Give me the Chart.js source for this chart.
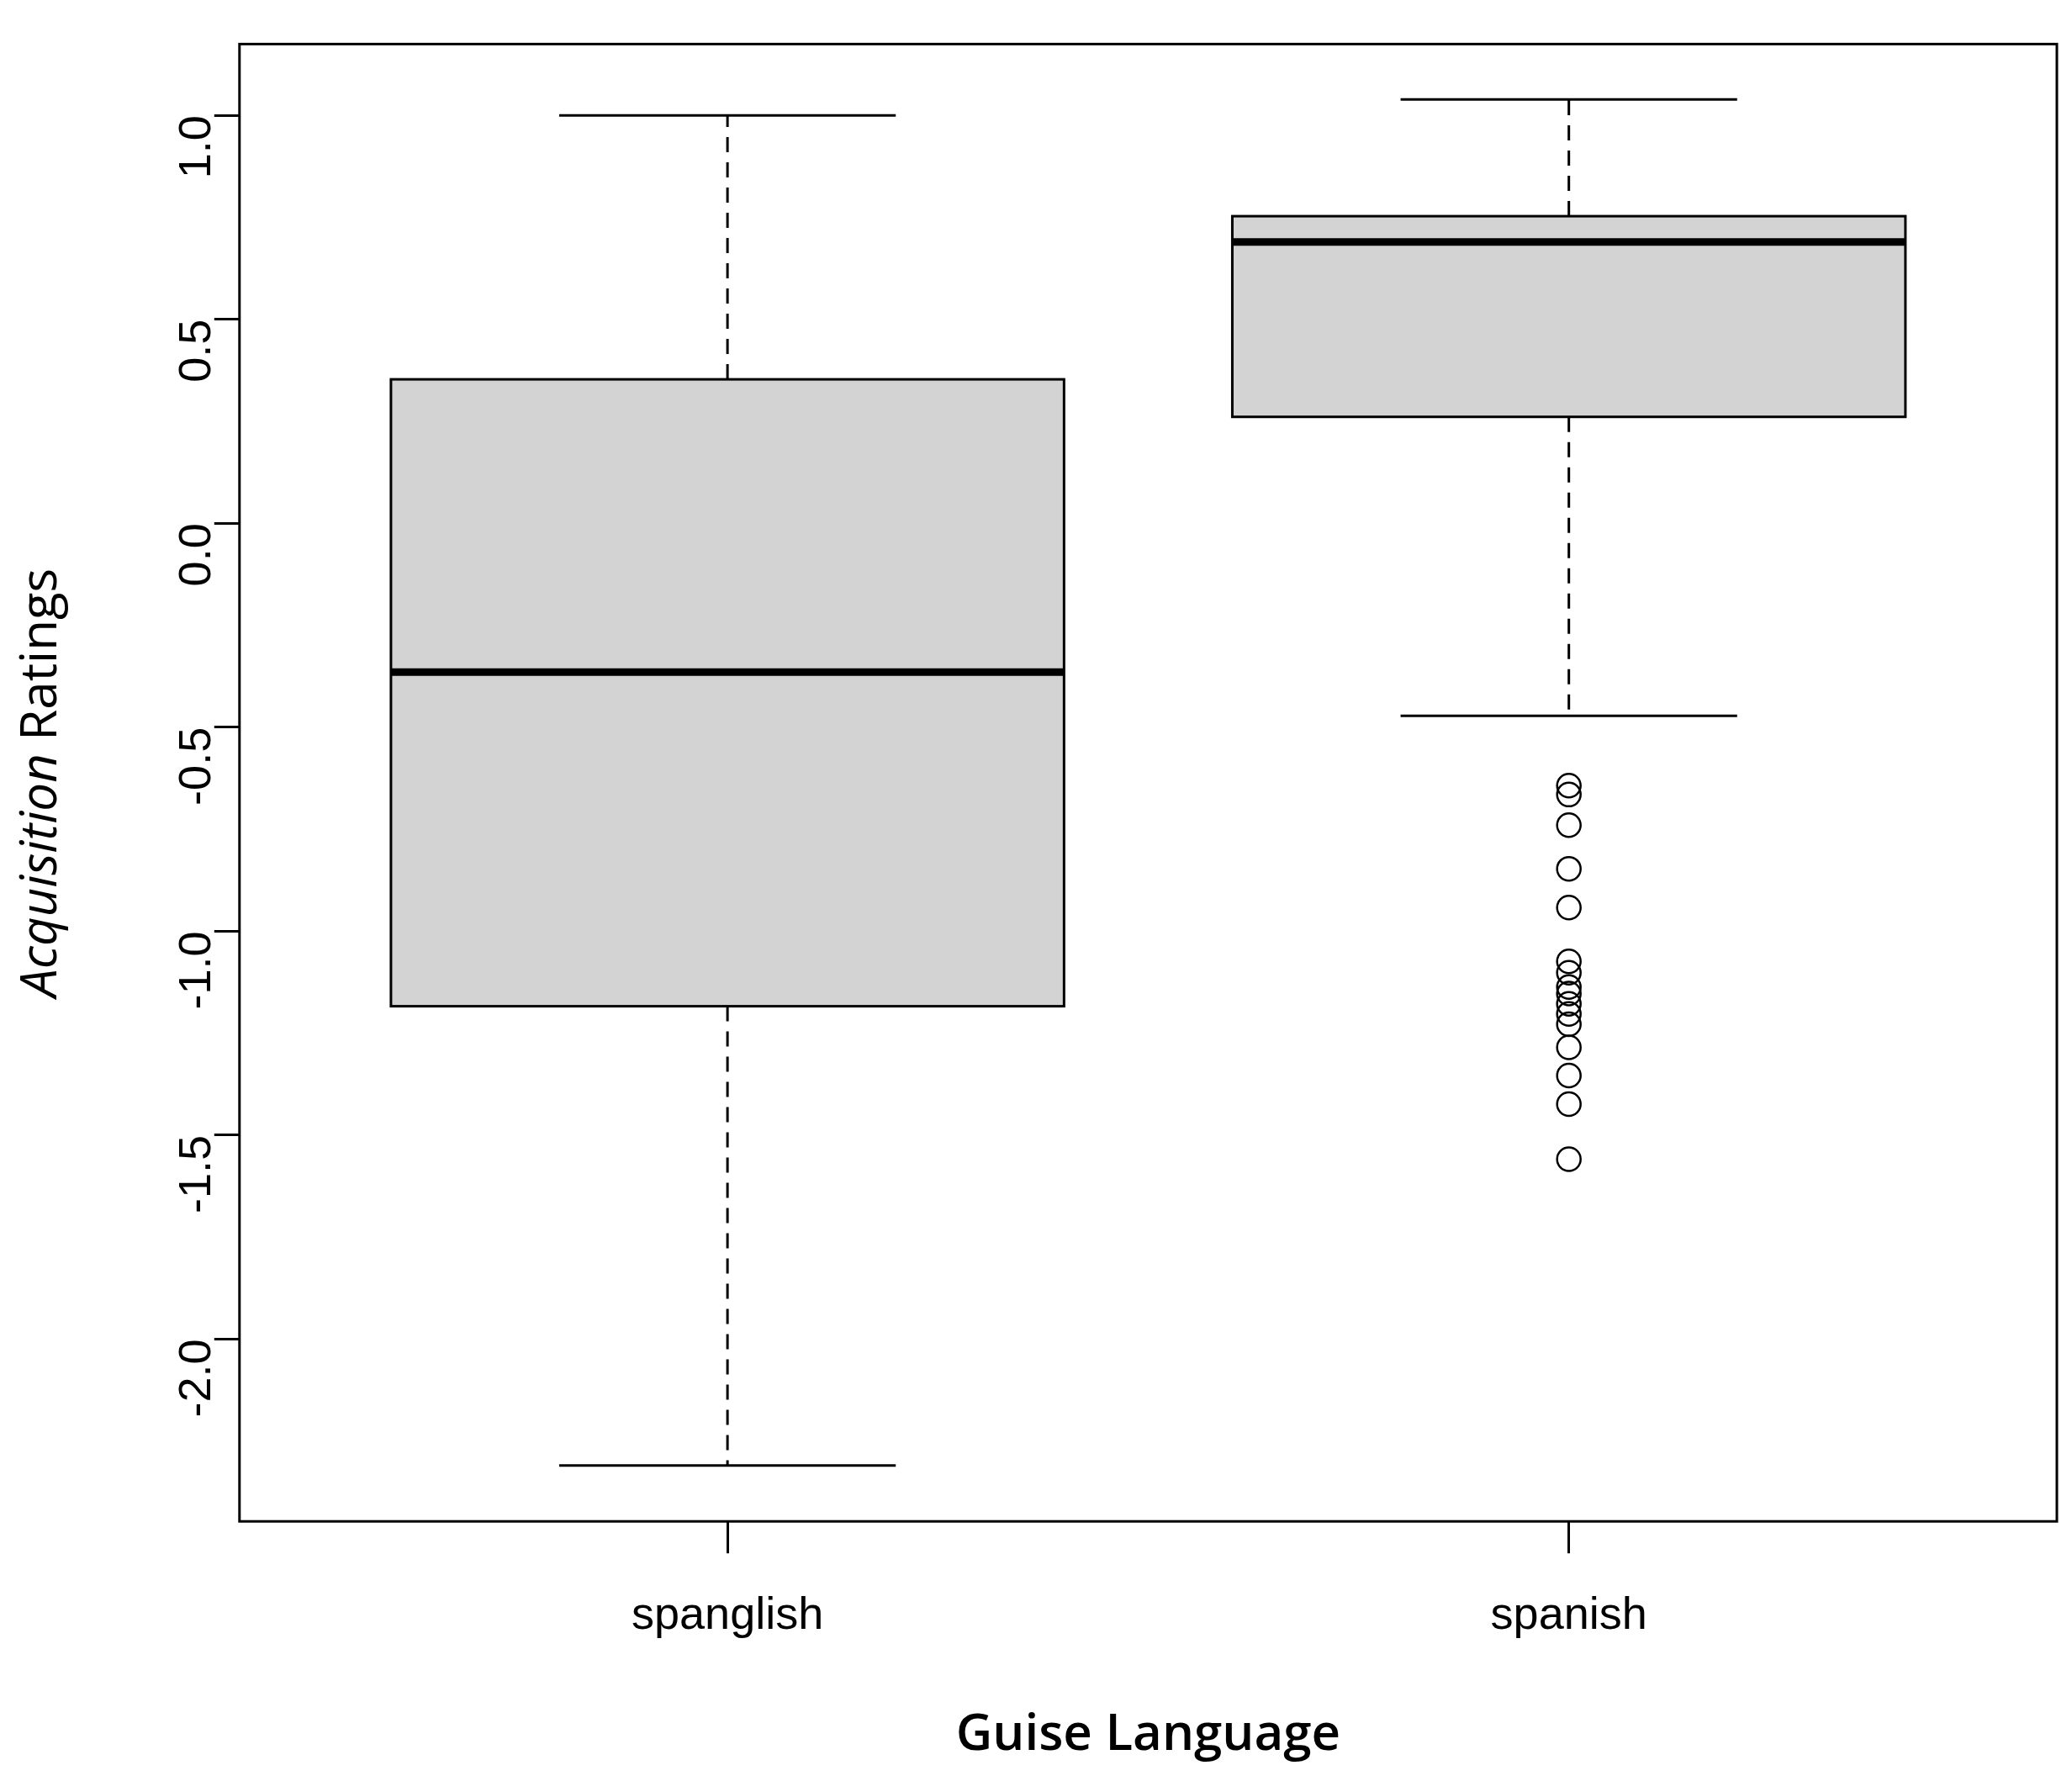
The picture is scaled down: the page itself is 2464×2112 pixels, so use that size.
<!DOCTYPE html>
<html lang="en">
<head>
  <meta charset="UTF-8">
  <title>Acquisition Ratings by Guise Language</title>
  <script src="https://cdn.jsdelivr.net/npm/chart.js"></script>
  <style>
    body { margin: 0; background: #fff; }
    canvas { display: block; }
  </style>
</head>
<body>
  <canvas id="boxChart" width="2464" height="2112"></canvas>
  <script>
    // Data
    const groups = ['spanglish', 'spanish'];
    const whiskerLow = [-2.31, -0.472];
    const boxLow = [-1.184, 0.261];
    const medians = [-0.365, 0.69];
    const boxHigh = [0.353, 0.753];
    const whiskerHigh = [1.0, 1.039];
    const spanishOutliers = [-0.643, -0.665, -0.740, -0.847, -0.942, -1.074, -1.102, -1.137,
                             -1.153, -1.178, -1.203, -1.228, -1.285, -1.354, -1.424, -1.559];
    const yTicks = [-2.0, -1.5, -1.0, -0.5, 0.0, 0.5, 1.0];

    // Box, whiskers, frame and y title drawn with the chart's scales
    const boxPlugin = {
      id: 'boxes',
      beforeDatasetsDraw(chart) {
        const { ctx, scales: { x, y }, chartArea: a } = chart;
        ctx.save();
        groups.forEach((g, i) => {
          const cx = x.getPixelForValue(i + 1);
          const half = x.getPixelForValue(i + 1.4) - cx;
          const cap = half / 2;
          const yb = y.getPixelForValue(boxLow[i]), yt = y.getPixelForValue(boxHigh[i]);
          ctx.fillStyle = '#d3d3d3';
          ctx.fillRect(cx - half, yt, half * 2, yb - yt);
          ctx.strokeStyle = '#000';
          ctx.lineWidth = 3;
          ctx.strokeRect(cx - half, yt, half * 2, yb - yt);
          // whiskers
          ctx.setLineDash([18, 12]);
          ctx.beginPath();
          ctx.moveTo(cx, yt); ctx.lineTo(cx, y.getPixelForValue(whiskerHigh[i]));
          ctx.moveTo(cx, yb); ctx.lineTo(cx, y.getPixelForValue(whiskerLow[i]));
          ctx.stroke();
          ctx.setLineDash([]);
          ctx.beginPath();
          [whiskerHigh[i], whiskerLow[i]].forEach(v => {
            const py = y.getPixelForValue(v);
            ctx.moveTo(cx - cap, py); ctx.lineTo(cx + cap, py);
          });
          ctx.stroke();
          // median
          ctx.lineWidth = 9;
          ctx.beginPath();
          const my = y.getPixelForValue(medians[i]);
          ctx.moveTo(cx - half, my); ctx.lineTo(cx + half, my);
          ctx.stroke();
        });
        ctx.lineWidth = 3;
        ctx.strokeRect(a.left, a.top, a.right - a.left, a.bottom - a.top);
        // y title with italic first word
        ctx.translate(50, (a.top + a.bottom) / 2);
        ctx.rotate(-Math.PI / 2);
        ctx.fillStyle = '#000';
        ctx.textBaseline = 'middle';
        const f1 = 'italic 60px "Open Sans"', f2 = '60px "Open Sans"';
        const t1 = 'Acquisition', t2 = ' Ratings';
        ctx.font = f1; const w1 = ctx.measureText(t1).width;
        ctx.font = f2; const w2 = ctx.measureText(t2).width;
        let sx = -(w1 + w2) / 2;
        ctx.font = f1; ctx.fillText(t1, sx, 0);
        ctx.font = f2; ctx.fillText(t2, sx + w1, 0);
        ctx.restore();
      }
    };

    const ctx = document.getElementById('boxChart').getContext('2d');
    new Chart(ctx, {
      type: 'scatter',
      data: {
        datasets: [{
          label: 'Outliers',
          data: spanishOutliers.map(v => ({ x: 2, y: v })),
          pointStyle: 'circle',
          pointRadius: 14,
          pointBorderWidth: 2.5,
          borderColor: '#000',
          backgroundColor: 'rgba(0,0,0,0)'
        }]
      },
      options: {
        responsive: false,
        devicePixelRatio: 1,
        animation: false,
        layout: { padding: { left: 150, right: 18, top: -10, bottom: 12 } },
        plugins: { legend: { display: false }, tooltip: { enabled: false } },
        scales: {
          x: {
            type: 'linear', min: 0.42, max: 2.58,
            afterBuildTicks: s => { s.ticks = [{ value: 1 }, { value: 2 }]; },
            ticks: { callback: v => groups[v - 1], font: { family: 'Liberation Sans', size: 54 }, color: '#000', padding: 43, maxRotation: 0 },
            grid: { drawOnChartArea: false, drawTicks: true, tickLength: 38, color: '#000', lineWidth: 3 },
            border: { display: false },
            title: { display: true, text: 'Guise Language', font: { family: 'Open Sans', size: 60, weight: '600' }, color: '#000', padding: { top: 30, bottom: 0 } }
          },
          y: {
            min: -2.447, max: 1.175,
            afterBuildTicks: s => { s.ticks = yTicks.map(v => ({ value: v })); },
            ticks: { callback: v => v.toFixed(1), font: { family: 'Liberation Sans', size: 54 }, color: '#000', minRotation: 90, maxRotation: 90, padding: 20 },
            grid: { drawOnChartArea: false, drawTicks: true, tickLength: 30, color: '#000', lineWidth: 3 },
            border: { display: false }
          }
        }
      },
      plugins: [boxPlugin]
    });
  </script>
</body>
</html>
